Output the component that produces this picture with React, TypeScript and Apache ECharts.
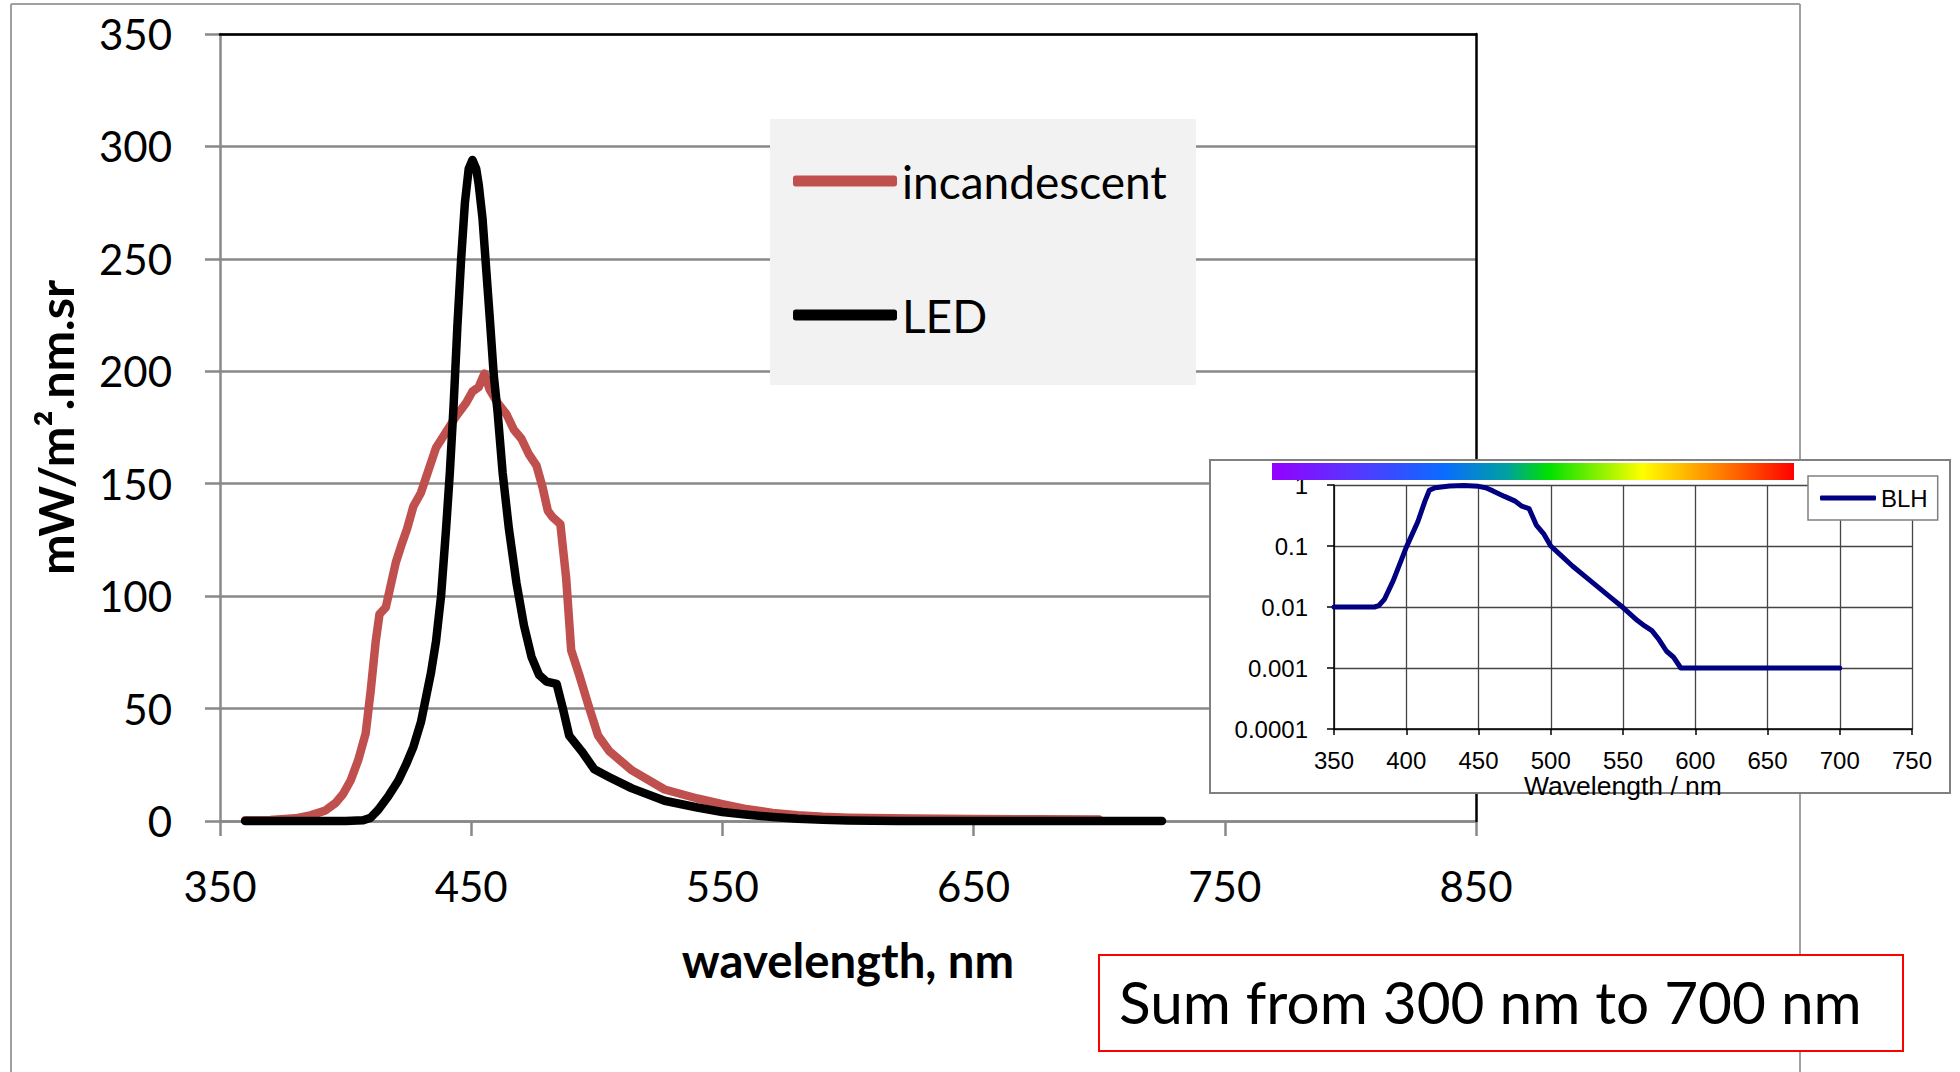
import React, { useEffect, useRef } from "react";
import * as echarts from "echarts";

// ---------- DATA ----------
// Main chart: spectral radiance, mW/m².nm.sr vs wavelength (nm)
const incandescentData: [number, number][] = [
  [360, 0.3], [370, 0.5], [380, 1.2], [386, 2.5], [392, 4.7], [396, 8], [399, 12],
  [402, 18], [405, 27], [408, 39], [410, 58], [412, 80], [413.5, 92], [416, 95],
  [418, 105], [420, 115], [422, 122], [424.5, 130], [427, 140], [430, 146],
  [433, 156], [436, 166], [440, 173], [444, 180], [448, 186], [450.5, 191],
  [453, 193], [455.3, 199], [457.3, 192], [460.5, 186], [464, 181], [467, 174],
  [470, 170], [473, 163], [476, 158], [478.5, 148], [480.5, 138], [482.5, 135],
  [485.5, 132], [487.8, 108], [489.8, 76], [493, 65], [496.5, 52], [500.5, 38],
  [505, 31], [514, 22.5], [527, 14], [540, 10], [550, 7.5], [560, 5.2], [570, 3.6],
  [580, 2.6], [590, 1.9], [600, 1.5], [625, 1.1], [650, 0.9], [675, 0.8], [700, 0.7],
];

const ledData: [number, number][] = [
  [360, 0], [380, 0], [400, 0], [407, 0.3], [410, 1.5], [413, 5], [417, 11],
  [421, 18], [424, 25], [427, 33], [430, 44], [432, 55], [434, 66], [436, 80],
  [438, 100], [440, 130], [441.5, 155], [443, 185], [444.5, 220], [446, 250],
  [447.5, 275], [449, 290], [450.5, 294], [452, 290], [453, 283], [454.5, 268],
  [456, 245], [457.5, 222], [459, 198], [460.5, 182], [462.5, 155], [465, 130],
  [468, 106], [471, 87], [474, 73], [477, 65], [480, 62], [484, 61], [486.5, 50],
  [489, 38], [494, 31], [499, 23], [505, 19.5], [514, 14.5], [527, 9], [540, 6],
  [550, 4], [560, 2.8], [570, 1.8], [580, 1], [590, 0.5], [600, 0.2], [620, 0],
  [725, 0],
];

// Inset: blue light hazard weighting (log scale)
const blhData: [number, number][] = [
  [350, 0.01], [378, 0.01], [381, 0.0105], [385, 0.0135], [391, 0.027], [400, 0.095],
  [408, 0.25], [413, 0.55], [416, 0.82], [420, 0.9], [430, 0.96], [440, 0.98],
  [450, 0.95], [455, 0.9], [460, 0.8], [468, 0.65], [475, 0.55], [480, 0.45],
  [485, 0.41], [490, 0.22], [495, 0.16], [500, 0.1], [505, 0.078], [515, 0.047],
  [525, 0.03], [533, 0.021], [542, 0.014], [550, 0.0098], [560, 0.006],
  [565, 0.0049], [570, 0.0041], [575, 0.0029], [580, 0.0019], [585, 0.0015],
  [590, 0.001], [700, 0.001],
];

const insetYLabels = ["0.0001", "0.001", "0.01", "0.1", "1"];

const spectrumStops: [number, string][] = [
  [0, "#9400ff"], [0.15, "#5a34ff"], [0.33, "#0a6cff"], [0.45, "#00a0a0"],
  [0.53, "#00e000"], [0.62, "#80f000"], [0.71, "#ffff00"], [0.8, "#ffb000"],
  [0.9, "#ff5a00"], [1, "#ff0000"],
];

const seriesNames = ["incandescent", "LED", "BLH"];
const sumNote = "Sum from 300 nm to 700 nm";

const MAIN_FONT = "Lato, 'Open Sans', sans-serif";
const INSET_FONT = "'Liberation Sans', Arial, sans-serif";
const GRID_GRAY = "#888888";

export default function App() {
  const ref = useRef<HTMLDivElement>(null);

  useEffect(() => {
    if (!ref.current) return;
    const chart = echarts.init(ref.current, undefined, { renderer: "svg" });

    const option: any = {
      animation: false,
      backgroundColor: "#ffffff",
      grid: [
        { left: 220, top: 34, width: 1256, height: 787 },
        { left: 1334, top: 485, width: 578, height: 244, z: 5 },
      ],
      xAxis: [
        {
          gridIndex: 0,
          type: "value",
          min: 350,
          max: 850,
          interval: 100,
          axisLine: { onZero: false, lineStyle: { color: GRID_GRAY, width: 2.5 } },
          axisTick: { length: 15, lineStyle: { color: GRID_GRAY, width: 2.5 } },
          axisLabel: { fontFamily: MAIN_FONT, fontSize: 42, color: "#000", margin: 44 },
          splitLine: { show: false },
          name: "wavelength, nm",
          nameLocation: "middle",
          nameGap: 115,
          nameTextStyle: { fontFamily: MAIN_FONT, fontWeight: "bold", fontSize: 47.3, color: "#000" },
        },
        {
          gridIndex: 0,
          type: "value",
          position: "top",
          min: 350,
          max: 850,
          axisLine: { onZero: false, lineStyle: { color: "#000", width: 2.5 } },
          axisTick: { show: false },
          axisLabel: { show: false },
          splitLine: { show: false },
          z: 1,
        },
        {
          gridIndex: 1,
          type: "value",
          min: 350,
          max: 750,
          interval: 50,
          axisLine: { onZero: false, lineStyle: { color: "#000", width: 1.5 } },
          axisTick: { length: 6, lineStyle: { color: "#000", width: 1.5 } },
          axisLabel: { fontFamily: INSET_FONT, fontSize: 24, color: "#000", margin: 19 },
          splitLine: { show: true, lineStyle: { color: "#444", width: 1.3 } },
          name: "Wavelength / nm",
          nameLocation: "middle",
          nameGap: 27,
          nameTextStyle: { fontFamily: INSET_FONT, fontSize: 26.5, color: "#000" },
          z: 5,
        },
      ],
      yAxis: [
        {
          gridIndex: 0,
          type: "value",
          min: 0,
          max: 350,
          interval: 50,
          axisLine: { show: true, onZero: false, lineStyle: { color: GRID_GRAY, width: 2.5 } },
          axisTick: { show: true, length: 15, lineStyle: { color: GRID_GRAY, width: 2.5 } },
          axisLabel: { fontFamily: MAIN_FONT, fontSize: 42, color: "#000", margin: 48 },
          splitLine: { show: true, lineStyle: { color: GRID_GRAY, width: 2.5 } },
          name: "mW/m².nm.sr",
          nameLocation: "middle",
          nameGap: 141,
          nameTextStyle: { fontFamily: MAIN_FONT, fontWeight: "bold", fontSize: 48.5, color: "#000" },
        },
        {
          gridIndex: 0,
          type: "value",
          position: "right",
          min: 0,
          max: 350,
          axisLine: { show: true, onZero: false, lineStyle: { color: "#000", width: 2.5 } },
          axisTick: { show: false },
          axisLabel: { show: false },
          splitLine: { show: false },
          z: 1,
        },
        {
          gridIndex: 1,
          type: "log",
          logBase: 10,
          min: 0.0001,
          max: 1,
          axisLine: { show: true, onZero: false, lineStyle: { color: "#000", width: 1.5 } },
          axisTick: { show: true, length: 7, lineStyle: { color: "#000", width: 1.5 } },
          axisLabel: {
            fontFamily: INSET_FONT,
            fontSize: 24,
            color: "#000",
            margin: 26,
            formatter: (v: number) => insetYLabels[Math.round(Math.log10(v)) + 4] ?? "",
          },
          splitLine: { show: true, lineStyle: { color: "#444", width: 1.3 } },
          z: 5,
        },
      ],
      legend: [
        {
          data: [seriesNames[0], seriesNames[1]],
          orient: "vertical",
          left: 793,
          top: 156,
          icon: "roundRect",
          itemWidth: 104,
          itemHeight: 11,
          itemGap: 84,
          padding: 0,
          selectedMode: false,
          textStyle: { fontFamily: MAIN_FONT, fontSize: 46, color: "#000", lineHeight: 50 },
          z: 4,
        },
        {
          data: [seriesNames[2]],
          orient: "horizontal",
          left: 1808,
          top: 476,
          icon: "roundRect",
          itemWidth: 56,
          itemHeight: 5,
          padding: [8, 10, 8, 12],
          backgroundColor: "#ffffff",
          borderColor: "#808080",
          borderWidth: 1.5,
          borderRadius: 0,
          selectedMode: false,
          textStyle: { fontFamily: INSET_FONT, fontSize: 24, color: "#000", lineHeight: 28 },
          z: 8,
        },
      ],
      series: [
        {
          name: seriesNames[0],
          type: "line",
          xAxisIndex: 0,
          yAxisIndex: 0,
          data: incandescentData,
          symbol: "none",
          showSymbol: false,
          clip: false,
          color: "#C0504D",
          lineStyle: { color: "#C0504D", width: 8.5, cap: "round", join: "round" },
          z: 2,
        },
        {
          name: seriesNames[1],
          type: "line",
          xAxisIndex: 0,
          yAxisIndex: 0,
          data: ledData,
          symbol: "none",
          showSymbol: false,
          clip: false,
          color: "#000000",
          lineStyle: { color: "#000000", width: 8.5, cap: "round", join: "round" },
          z: 3,
        },
        {
          name: seriesNames[2],
          type: "line",
          xAxisIndex: 2,
          yAxisIndex: 2,
          data: blhData,
          symbol: "none",
          showSymbol: false,
          clip: false,
          color: "#000080",
          lineStyle: { color: "#000080", width: 5, cap: "round", join: "round" },
          z: 6,
        },
      ],
      graphic: {
        elements: [
          { type: "line", shape: { x1: 11, y1: 4, x2: 11, y2: 1080 }, style: { stroke: "#a0a0a0", lineWidth: 2 }, z: 1 },
          { type: "line", shape: { x1: 11, y1: 4, x2: 1800, y2: 4 }, style: { stroke: "#a0a0a0", lineWidth: 2 }, z: 1 },
          { type: "line", shape: { x1: 1800, y1: 4, x2: 1800, y2: 1080 }, style: { stroke: "#a0a0a0", lineWidth: 2 }, z: 1 },
          { type: "rect", shape: { x: 770, y: 119, width: 426, height: 266 }, style: { fill: "#f2f2f2" }, z: 3 },
          {
            type: "rect",
            shape: { x: 1210, y: 460, width: 740, height: 333 },
            style: { fill: "#ffffff", stroke: "#808080", lineWidth: 2 },
            z: 4,
          },
          {
            type: "rect",
            shape: { x: 1272, y: 463, width: 522, height: 17 },
            style: {
              fill: new echarts.graphic.LinearGradient(
                0, 0, 1, 0,
                spectrumStops.map(([offset, color]) => ({ offset, color }))
              ),
            },
            z: 7,
          },
          {
            type: "rect",
            shape: { x: 1099, y: 955, width: 804, height: 96 },
            style: { fill: "#ffffff", stroke: "#ff0000", lineWidth: 2 },
            z: 10,
          },
          {
            type: "text",
            x: 1119,
            y: 1001,
            style: {
              text: sumNote,
              fontFamily: MAIN_FONT,
              fontSize: 58.5,
              fill: "#000",
              align: "left",
              verticalAlign: "middle",
              textAlign: "left",
              textVerticalAlign: "middle",
            },
            z: 11,
          },
        ],
      },
    };

    chart.setOption(option);
    return () => chart.dispose();
  }, []);

  return (
    <div
      ref={ref}
      style={{ position: "fixed", left: 0, top: 0, width: 1960, height: 1072, background: "#fff" }}
    />
  );
}
